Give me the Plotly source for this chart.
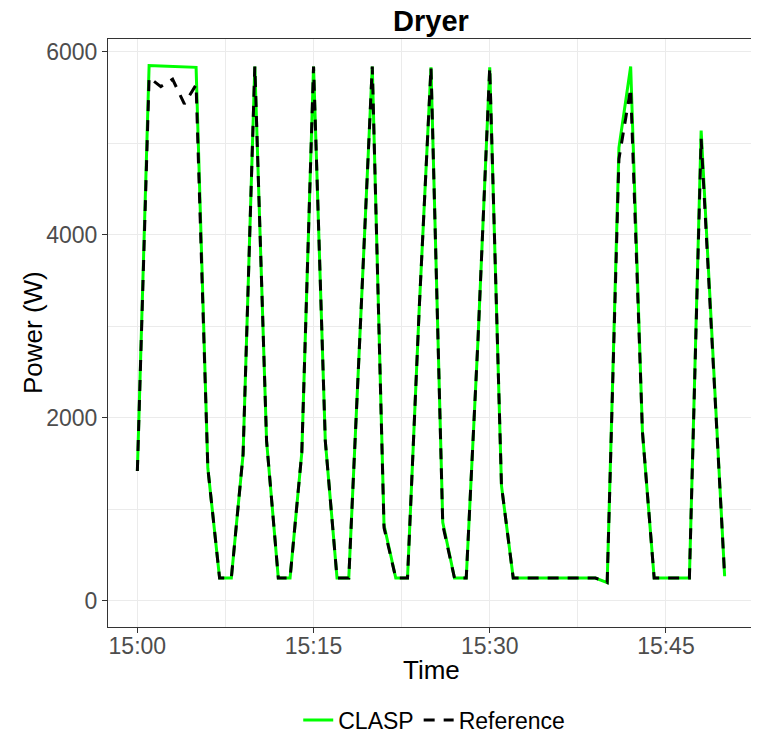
import plotly.graph_objects as go

# Time stamps (one sample per minute, 15:00 - 15:50)
times = ["2023-01-01 15:%02d:00" % m for m in range(51)]

clasp_w = [1420, 5850, 5845, 5840, 5835, 5830, 1450, 250, 250, 1600,
           5840, 1750, 250, 250, 1620, 5840, 1750, 250, 250, 3000,
           5840, 830, 250, 250, 3200, 5830, 860, 250, 250, 2850,
           5830, 1260, 250, 250, 250, 250, 250, 250, 250, 250,
           200, 4950, 5840, 1850, 250, 250, 250, 250, 5140, 2700,
           270]

reference_w = [1420, 5720, 5620, 5700, 5430, 5640, 1450, 250, 250, 1600,
               5840, 1750, 250, 250, 1620, 5840, 1750, 250, 250, 3000,
               5840, 800, 250, 250, 3200, 5830, 830, 250, 250, 2850,
               5830, 1260, 250, 250, 250, 250, 250, 250, 250, 250,
               200, 4830, 5600, 1850, 250, 250, 250, 250, 5050, 2700,
               270]

y_ticks = [0, 2000, 4000, 6000]

font_family = "Liberation Sans, Arial, Helvetica, sans-serif"

# The page body has an 8px margin, so the figure is drawn 8px smaller
W, H = 751, 727
ML, MR, MT, MB = 100, 5, 31, 108
PW = W - ML - MR
PH = H - MT - MB

fig = go.Figure()
fig.add_trace(go.Scatter(x=times, y=clasp_w, mode="lines", name="CLASP",
                         line=dict(color="#00FF00", width=3)))
fig.add_trace(go.Scatter(x=times, y=reference_w, mode="lines", name="Reference",
                         line=dict(color="#000000", width=3, dash="11px,9px")))

fig.update_layout(
    width=W, height=H,
    margin=dict(l=ML, r=MR, t=MT, b=MB, autoexpand=False),
    paper_bgcolor="white", plot_bgcolor="white",
    font=dict(family=font_family, color="black"),
    title=dict(text="<b>Dryer</b>", x=423 / W, xanchor="center",
               y=1 - 12.5 / H, yanchor="middle",
               font=dict(size=29, color="black", family=font_family)),
    legend=dict(orientation="h", x=0.505, xanchor="center",
                yref="container", y=1 - 712 / H, yanchor="middle",
                font=dict(size=23, color="black"), itemwidth=30,
                bgcolor="rgba(0,0,0,0)"),
    showlegend=True,
    annotations=[
        dict(text="Power (W)", textangle=-90, xref="paper", yref="paper",
             x=(25 - ML) / PW, y=0.5, xanchor="center", yanchor="middle",
             showarrow=False, font=dict(size=26, color="black")),
        dict(text="Time", xref="paper", yref="paper",
             x=0.5, y=-(662 - (H - MB)) / PH,
             xanchor="center", yanchor="middle",
             showarrow=False, font=dict(size=26, color="black")),
    ],
)

fig.update_xaxes(
    type="date",
    range=["2023-01-01 14:57:30", "2023-01-01 15:52:30"],
    tick0="2023-01-01 15:00:00", dtick=15 * 60 * 1000, tickformat="%H:%M",
    showgrid=True, gridcolor="#EBEBEB", gridwidth=1.1,
    minor=dict(dtick=7.5 * 60 * 1000, tick0="2023-01-01 15:00:00", showgrid=True,
               gridcolor="#EBEBEB", gridwidth=0.6, ticks=""),
    showline=True, linecolor="#333333", linewidth=1.1, mirror=True,
    ticks="outside", ticklen=5, tickwidth=1.1, tickcolor="#333333",
    ticklabelstandoff=-7,
    tickfont=dict(size=23, color="#4D4D4D"),
    zeroline=False,
)

fig.update_yaxes(
    range=[-285, 6140],
    tickvals=y_ticks, ticktext=[str(v) for v in y_ticks],
    showgrid=True, gridcolor="#EBEBEB", gridwidth=1.1,
    minor=dict(tickvals=[1000, 3000, 5000], showgrid=True,
               gridcolor="#EBEBEB", gridwidth=0.6, ticks=""),
    showline=True, linecolor="#333333", linewidth=1.1, mirror=True,
    ticks="outside", ticklen=5, tickwidth=1.1, tickcolor="#333333",
    tickfont=dict(size=23, color="#4D4D4D"),
    zeroline=False,
)

fig.write_html("out.html")
